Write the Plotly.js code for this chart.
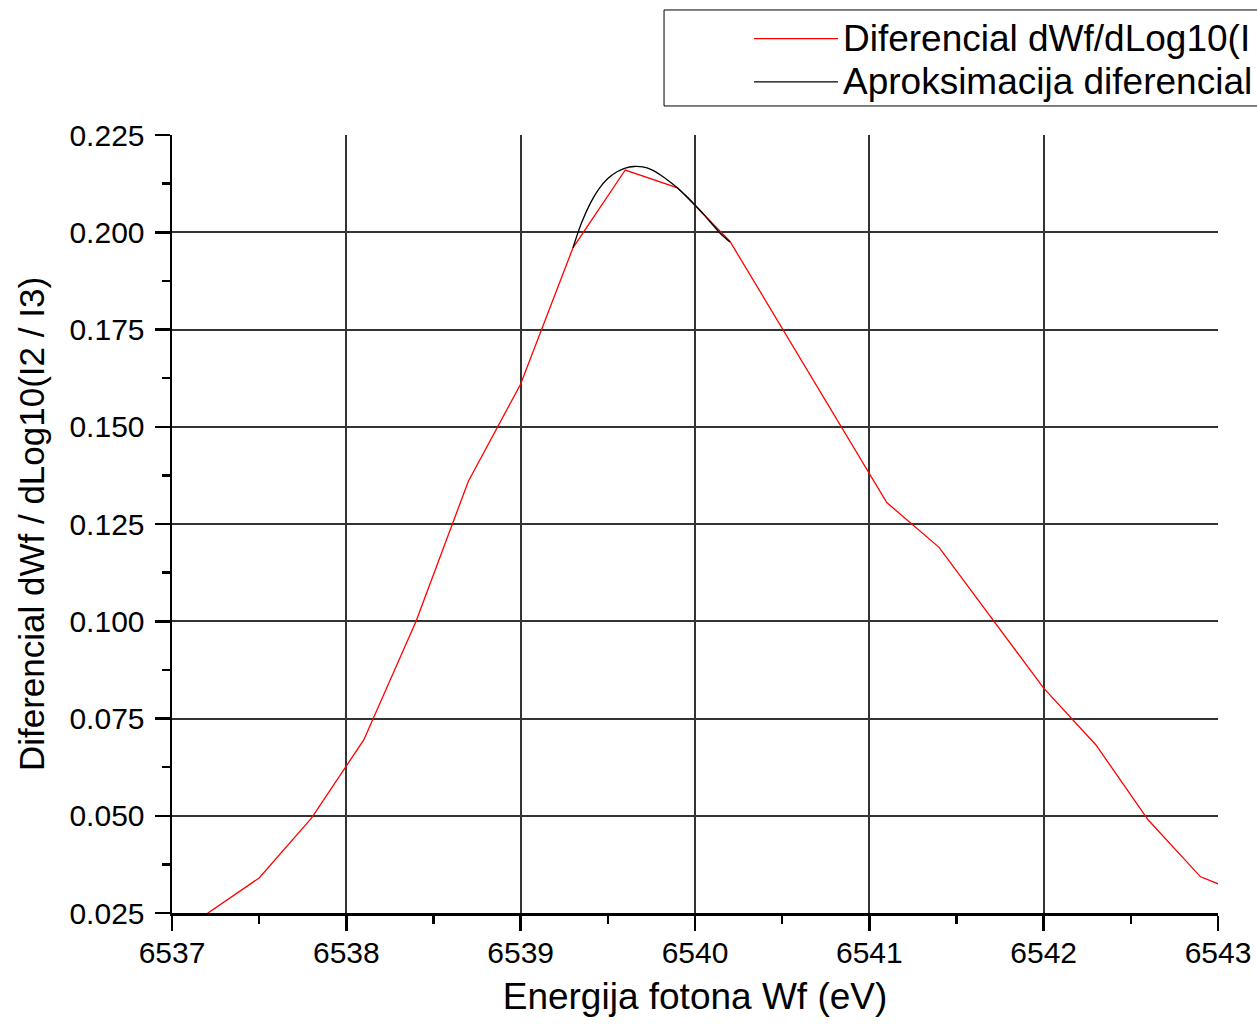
<!DOCTYPE html>
<html>
<head>
<meta charset="utf-8">
<script src="https://cdn.plot.ly/plotly-3.0.1.min.js"></script>
<style>
html,body{margin:0;padding:0;background:#fff;}
#chart{width:1257px;height:1030px;}
</style>
</head>
<body>
<div id="chart"></div>
<script>
// Measured series: Diferencial dWf/dLog10(I2/I3)
const energyRed = [6537.2, 6537.5, 6537.8, 6538.1, 6538.4, 6538.7, 6539.0, 6539.3, 6539.6, 6539.9,
                   6540.2, 6540.5, 6540.8, 6541.1, 6541.4, 6541.7, 6542.0, 6542.3, 6542.6, 6542.9, 6543.2];
const diffRed   = [0.0248, 0.0340, 0.0494, 0.0695, 0.1000, 0.1360, 0.1610, 0.1960, 0.2160, 0.2114,
                   0.1977, 0.1752, 0.1529, 0.1305, 0.1190, 0.1010, 0.0828, 0.0682, 0.0489, 0.0343, 0.0290];

// Approximation near the peak
const energyFit = [6539.30, 6539.35, 6539.40, 6539.45, 6539.50, 6539.55, 6539.60, 6539.65, 6539.70, 6539.75,
                   6539.80, 6539.85, 6539.90, 6539.95, 6540.00, 6540.05, 6540.10, 6540.15, 6540.20];
const diffFit   = [0.1960, 0.2025, 0.2075, 0.2112, 0.2138, 0.2155, 0.2165, 0.2169, 0.2168, 0.2161,
                   0.2148, 0.2132, 0.2114, 0.2093, 0.2070, 0.2046, 0.2020, 0.1995, 0.1975];

const legendNames = ['Diferencial dWf/dLog10(I', 'Aproksimacija diferencial'];
const xTitle = 'Energija fotona Wf (eV)';
const yTitle = 'Diferencial dWf / dLog10(I2 / I3)';

const FONT = 'Liberation Sans, Arial, sans-serif';
const big = s => '<span style="font-size:37px">' + s + '</span>';

const traces = [
  {x: energyRed, y: diffRed, type: 'scatter', mode: 'lines', name: big(legendNames[0]),
   line: {color: '#ff0000', width: 1.3}},
  {x: energyFit, y: diffFit, type: 'scatter', mode: 'lines', name: big(legendNames[1]),
   line: {color: '#000000', width: 1.3, shape: 'spline'}}
];

const layout = {
  width: 1257, height: 1030,
  paper_bgcolor: '#fff', plot_bgcolor: '#fff',
  margin: {l: 172, r: 39, t: 135, b: 117, autoexpand: false},
  font: {family: FONT, color: '#000', size: 30},
  showlegend: true,
  legend: {
    x: 0.5516, y: 1.1581, xanchor: 'left', yanchor: 'top',
    borderwidth: 0, bgcolor: 'rgba(0,0,0,0)',
    font: {family: FONT, size: 31, color: '#000'},
    itemwidth: 84, tracegroupgap: 0
  },
  shapes: [
    {type: 'rect', xref: 'paper', yref: 'paper', x0: 0.4704, x1: 1.2, y0: 1.0373, y1: 1.1607,
     line: {color: '#000', width: 1}, fillcolor: 'rgba(0,0,0,0)', layer: 'above'}
  ],
  xaxis: {
    range: [6537, 6543], dtick: 1, tick0: 6537,
    showgrid: true, gridcolor: '#333', gridwidth: 2,
    showline: true, linecolor: '#000', linewidth: 2.5,
    ticks: 'outside', ticklen: 15, tickwidth: 2.5, tickcolor: '#000',
    minor: {dtick: 0.5, ticks: 'outside', ticklen: 8, tickwidth: 2.5, tickcolor: '#000', showgrid: false},
    tickfont: {size: 30, family: FONT}, zeroline: false, ticklabelstandoff: -4,
    title: {text: xTitle, font: {size: 37, family: FONT}, standoff: 16}
  },
  yaxis: {
    range: [0.025, 0.225], dtick: 0.025, tick0: 0.025, tickformat: '.3f',
    showgrid: true, gridcolor: '#333', gridwidth: 2,
    showline: true, linecolor: '#000', linewidth: 2.5,
    ticks: 'outside', ticklen: 15, tickwidth: 2.5, tickcolor: '#000',
    minor: {dtick: 0.0125, ticks: 'outside', ticklen: 8, tickwidth: 2.5, tickcolor: '#000', showgrid: false},
    tickfont: {size: 30, family: FONT}, zeroline: false, ticklabelstandoff: 4,
    title: {text: yTitle, font: {size: 35, family: FONT}, standoff: 14}
  }
};

Plotly.newPlot('chart', traces, layout, {staticPlot: true, displayModeBar: false});
</script>
</body>
</html>
